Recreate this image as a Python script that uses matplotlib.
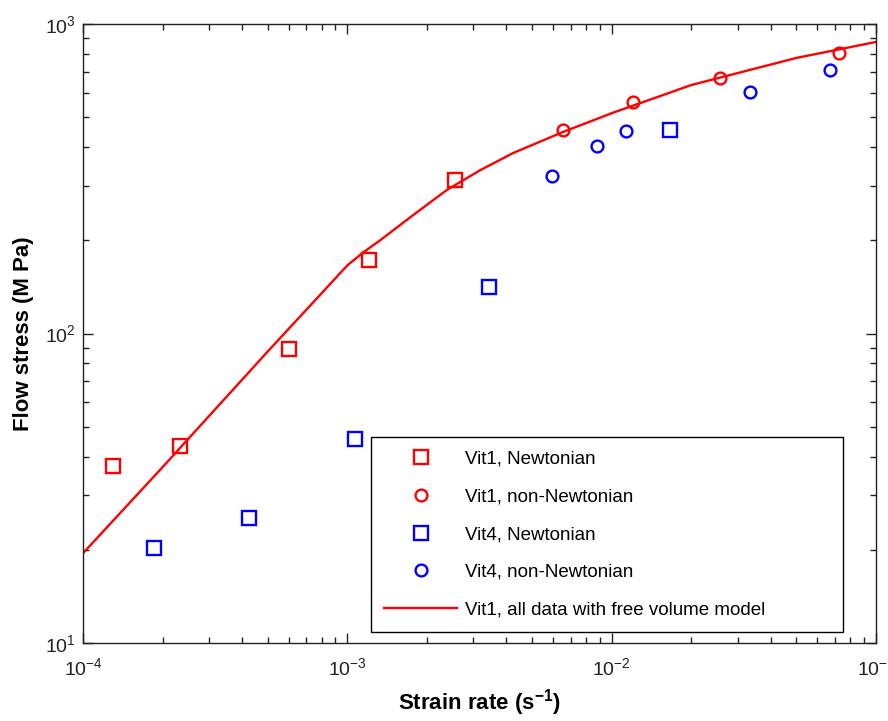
import numpy as np
import matplotlib.pyplot as plt
from matplotlib.ticker import LogLocator, NullFormatter

plt.rcParams['font.family'] = ['Liberation Sans', 'DejaVu Sans']
plt.rcParams['mathtext.fontset'] = 'custom'
plt.rcParams['mathtext.rm'] = 'Liberation Sans'
plt.rcParams['mathtext.bf'] = 'Liberation Sans:bold'

# ---------- Data ----------
vit1_newt_rate = [1.30e-4, 2.33e-4, 6.0e-4, 1.21e-3, 2.56e-3]
vit1_newt_stress = [37.3, 43.3, 89, 173, 313]

vit1_nonnewt_rate = [6.55e-3, 1.205e-2, 2.57e-2, 7.25e-2]
vit1_nonnewt_stress = [454, 560, 669, 806]

vit4_newt_rate = [1.86e-4, 4.25e-4, 1.07e-3, 3.44e-3, 1.66e-2]
vit4_newt_stress = [20.3, 25.3, 45.6, 141, 454]

vit4_nonnewt_rate = [5.95e-3, 8.81e-3, 1.13e-2, 3.34e-2, 6.70e-2]
vit4_nonnewt_stress = [323, 403, 451, 603, 710]

# free volume model fit for Vit1
model_rate = [1e-4, 2e-4, 5e-4, 1e-3, 1.15e-3, 1.33e-3, 1.77e-3, 2.38e-3,
              3.18e-3, 4.24e-3, 6.55e-3, 1e-2, 2e-2, 5e-2, 1e-1]
model_stress = [19.5, 37.0, 87.5, 166, 183, 200, 241, 291,
                337, 383, 448, 515, 635, 777, 875]

# ---------- Plot ----------
fig = plt.figure(figsize=(8.88, 7.21), dpi=100)
ax = fig.add_axes([83 / 888, 78 / 721, 793 / 888, 619 / 721])

ax.plot(model_rate, model_stress, color='red', lw=1.7, zorder=2,
        label='Vit1, all data with free volume model')
ax.plot(vit1_newt_rate, vit1_newt_stress, 's', ms=10, mfc='none', mec='red', mew=1.7,
        label='Vit1, Newtonian', zorder=3)
ax.plot(vit1_nonnewt_rate, vit1_nonnewt_stress, 'o', ms=8.5, mfc='none', mec='red', mew=1.7,
        label='Vit1, non-Newtonian', zorder=3)
ax.plot(vit4_newt_rate, vit4_newt_stress, 's', ms=10, mfc='none', mec='blue', mew=1.7,
        label='Vit4, Newtonian', zorder=3)
ax.plot(vit4_nonnewt_rate, vit4_nonnewt_stress, 'o', ms=8.5, mfc='none', mec='blue', mew=1.7,
        label='Vit4, non-Newtonian', zorder=3)

ax.set_xscale('log')
ax.set_yscale('log')
ax.set_xlim(1e-4, 1e-1)
ax.set_ylim(10, 1000)

ax.xaxis.set_major_locator(LogLocator(base=10, numticks=10))
ax.xaxis.set_minor_locator(LogLocator(base=10, subs=np.arange(2, 10), numticks=20))
ax.yaxis.set_minor_locator(LogLocator(base=10, subs=np.arange(2, 10), numticks=20))
ax.xaxis.set_minor_formatter(NullFormatter())
ax.yaxis.set_minor_formatter(NullFormatter())

ax.tick_params(which='both', direction='in', top=True, right=True, colors='#222222',
               labelcolor='#222222', labelsize=14)
ax.tick_params(which='major', length=7, width=1)
ax.tick_params(which='minor', length=4, width=1)
ax.tick_params(axis='x', pad=10)
ax.tick_params(axis='y', pad=5)
for sp in ax.spines.values():
    sp.set_linewidth(1.0)
    sp.set_color('#222222')

ax.set_xlabel('Strain rate (s$^{\\mathbf{-1}}$)', fontsize=16, fontweight='bold', labelpad=6)
ax.set_ylabel('Flow stress (M Pa)', fontsize=16, fontweight='bold', labelpad=8)

handles, labels = ax.get_legend_handles_labels()
order = [1, 2, 3, 4, 0]
leg = ax.legend([handles[i] for i in order], [labels[i] for i in order],
                loc='lower left', bbox_to_anchor=(0.363, 0.018, 0.595, 0.318),
                mode='expand', borderaxespad=0, fontsize=13.5, handlelength=3.9,
                handletextpad=0.42, labelspacing=1.1, borderpad=0.7,
                fancybox=False, edgecolor='black', framealpha=1)
leg.get_frame().set_linewidth(1.0)

fig.savefig('out.png', dpi=100)
